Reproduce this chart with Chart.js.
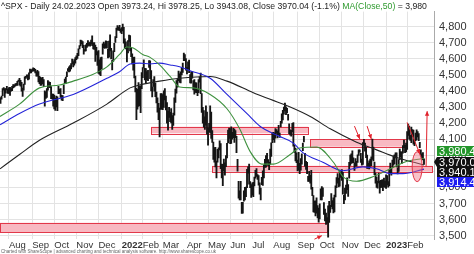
<!DOCTYPE html>
<html>
<head>
<meta charset="utf-8">
<script src="https://cdn.jsdelivr.net/npm/chart.js@4.4.1/dist/chart.umd.min.js"></script>
<style>
  html, body { margin: 0; padding: 0; background: #fff; }
</style>
</head>
<body>
<canvas id="chart" width="474" height="254"></canvas>
<script>
// daily bars 21 Jul 2021 .. 24 Feb 2023, x = trading day (0 = 2 Aug 2021)
const firstDay = -8;

const highs = [
  4359,4369,4415,4422,4416,4416,4430,4412,
  4422,4424,4416,4430,4440,4439,4445,4449,4461,4468,4480,4467,4455,4418,4444,4489,4492,4501,4499,4513,4537,4531,
  4537,4545,4541,4535,4521,4529,4521,4492,4485,4481,4486,4472,4402,4395,4416,4465,4457,4454,4428,4382,4382,
  4375,4356,4369,4365,4429,4412,4415,4374,4372,4439,4475,4487,4520,4540,4551,4559,4572,4599,4584,4597,4608,
  4620,4635,4663,4683,4718,4714,4708,4685,4659,4688,4697,4714,4701,4705,4718,4744,4701,4702,4686,4672,4646,
  4652,4595,4608,4612,4695,4705,4695,4713,4710,4660,4712,4751,4666,4591,4651,4697,4740,4792,4808,4798,4809,4787,
  4796,4818,4797,4725,4707,4673,4714,4749,4745,4666,4632,4611,4612,4494,4417,4411,4453,4429,4432,4516,
  4546,4595,4542,4540,4522,4530,4590,4588,4527,4427,4472,4490,4450,4394,4358,4324,4294,4385,4385,
  4379,4401,4416,4369,4329,4276,4299,4268,4291,4247,4263,4358,4412,4465,4475,4525,4508,4520,4546,4575,4637,4627,4603,
  4548,4583,4593,4503,4521,4521,4465,4471,4453,4452,4410,4471,4489,4512,4385,4299,4278,4240,4308,4270,
  4169,4200,4308,4270,4154,4082,4049,4050,3964,4038,4047,4090,4073,3946,3944,3976,3953,3999,4075,4158,4169,
  4166,4177,4143,4168,4164,4154,4119,3975,3838,3779,3838,3707,3707,3779,3801,3802,3913,3928,3945,3836,3818,
  3829,3832,3865,3906,3918,3880,3874,3829,3796,3863,3903,3939,3975,3999,4012,3973,3957,4039,4078,4140,
  4144,4140,4167,4161,4151,4187,4138,4211,4258,4280,4301,4325,4302,4292,4256,4196,4159,4156,4200,4204,4063,4044,4016,
  3970,4019,3950,3980,4010,4076,4119,4013,3963,3956,3870,3900,3876,3907,3800,3749,3715,3717,3736,3687,3671,
  3698,3791,3806,3798,3706,3666,3640,3613,3685,3714,3689,3762,3718,3736,3753,3810,3862,3886,3859,3905,3893,
  3911,3894,3751,3796,3814,3860,3818,3957,4002,4009,4028,3984,3954,3979,3962,4003,4034,4034,4012,3976,4080,
  4100,4077,4052,4002,3951,3966,3977,3991,4101,4052,3958,3890,3864,3839,3889,3839,3845,3847,3848,3858,3839,
  3878,3874,3836,3906,3951,3919,3970,3997,4003,4016,4015,3922,3973,4039,4024,4020,4061,4095,4063,4077,
  4148,4195,4182,4125,4176,4161,4157,4095,4138,4159,4148,4136,4081,4034,4010,4017,3978
];

const lows = [
  4324,4350,4372,4405,4360,4387,4407,4385,
  4385,4373,4400,4402,4420,4424,4430,4436,4435,4460,4437,4430,4400,4367,4406,4442,4479,4486,4469,4474,4513,4513,
  4522,4526,4524,4513,4493,4493,4457,4446,4435,4437,4447,4428,4306,4354,4360,4406,4425,4421,4353,4352,4306,
  4289,4279,4302,4278,4384,4386,4360,4343,4340,4384,4447,4447,4490,4524,4519,4524,4538,4569,4551,4562,4574,
  4595,4604,4621,4662,4681,4694,4670,4630,4648,4650,4672,4680,4684,4680,4692,4683,4662,4659,4585,4625,4560,
  4510,4504,4496,4540,4630,4670,4665,4670,4667,4606,4611,4650,4600,4532,4584,4645,4703,4733,4780,4779,4776,4765,
  4758,4774,4699,4671,4662,4582,4638,4709,4650,4614,4569,4530,4482,4395,4222,4287,4304,4309,4265,4415,
  4483,4544,4470,4452,4471,4465,4548,4477,4401,4364,4429,4400,4366,4327,4268,4222,4114,4286,4287,
  4285,4299,4345,4283,4201,4157,4236,4209,4202,4162,4186,4250,4329,4387,4424,4465,4454,4451,4501,4517,4589,4589,4530,
  4507,4540,4514,4451,4450,4481,4408,4381,4392,4390,4371,4390,4455,4384,4267,4200,4175,4162,4188,4131,
  4063,4147,4140,4106,4081,3975,3957,3928,3859,3958,3984,4034,3917,3859,3811,3904,3876,3930,3984,4077,4106,
  4073,4074,4100,4110,4081,4110,4017,3901,3734,3723,3722,3639,3640,3715,3722,3743,3798,3889,3820,3799,3738,
  3752,3742,3810,3858,3869,3850,3814,3758,3722,3817,3813,3860,3924,3926,3956,3936,3911,3945,3993,4079,
  4097,4080,4107,4136,4108,4128,4112,4177,4201,4220,4256,4277,4253,4264,4219,4135,4125,4120,4147,4057,4018,3965,3954,
  3903,3907,3886,3907,3945,4029,4083,3933,3913,3886,3837,3838,3827,3789,3749,3648,3644,3623,3640,3610,3584,
  3604,3722,3722,3744,3632,3591,3570,3577,3491,3583,3644,3680,3667,3641,3647,3741,3799,3827,3803,3808,3863,
  3843,3758,3699,3722,3763,3786,3744,3858,3937,3949,3953,3954,3906,3933,3933,3956,3999,4020,3956,3938,3944,
  4062,4026,3985,3919,3919,3916,3933,3936,3975,3965,3879,3827,3800,3795,3828,3765,3798,3801,3780,3805,3800,
  3794,3815,3802,3809,3890,3877,3925,3938,3947,3984,3928,3885,3900,3973,3990,3949,4014,4048,4017,4021,
  4037,4124,4100,4093,4079,4117,4069,4060,4092,4096,4114,4092,4048,3995,3981,3971,3943
];

// moving averages at these trading days
const ma50Days = [-8.5,10,29,48,61,77,93,105,112,118,127,134,143,153,162,175,191,207,219,229,240,251,267,276,292,308,317,330,346,362,378,394];
const ma50 =     [4242,4319,4420,4438,4462,4497,4551,4628,4675,4669,4628,4610,4563,4491,4426,4420,4379,4290,4165,4023,3945,3945,4005,4046,4052,3957,3868,3839,3868,3916,3963,3980];
const ma100Days = [-8.5,10,29,61,93,105,115,124,134,143,153,162,172,191,207,226,238,255,270,279,298,317,336,349,362,374,394];
const ma100 =     [4190,4260,4319,4379,4480,4521,4569,4574,4569,4574,4563,4551,4527,4480,4379,4260,4183,4123,4076,4017,3957,3904,3928,3916,3886,3886,3914];
const ma200Days = [-8.5,10,29,61,93,115,124,143,162,191,207,232,248,267,286,305,330,349,368,394];
const ma200 =     [3916,4005,4094,4201,4319,4420,4438,4462,4480,4491,4462,4390,4349,4301,4242,4165,4082,4034,3987,3940];

const monthTicks = [0,22,43,64,85,107,127,146,169,189,210,231,251,274,295,316,337,358,378];
const monthLabels = ['Aug','Sep','Oct','Nov','Dec','2022','Feb','Mar','Apr','May','Jun','Jul','Aug','Sep','Oct','Nov','Dec','2023','Feb'];
const priceTicks = [3500,3600,3700,3800,3900,4000,4100,4200,4300,4400,4500,4600,4700,4800];

// last values shown on the price axis
const tagValues = [3980.48, 3970.04, 3940.12, 3914.49];

// drawn support/resistance zones: [fromDay, toDay, low, high]
const zones = [
  [135, 284, 4137, 4178],
  [286, 378, 4054, 4101],
  [193, 402, 3900, 3935],
  [-8.5, 302, 3521, 3580]
];
// arrows: [fromDay, fromPrice, toDay, toPrice]
const arrows = [
  [328, 4182, 333, 4102],
  [340, 4182, 344, 4102],
  [378, 4205, 390, 4010],
  [396, 3930, 397, 4275],
  [290, 3478, 297, 3500]
];

const FONT = "'Liberation Sans', Arial, sans-serif";

const overlay = {
  id: 'overlay',
  beforeDatasetsDraw(chart) {
    const { ctx, scales: { x, y } } = chart;
    ctx.save();
    zones.forEach(([d0, d1, lo, hi]) => {
      const x0 = x.getPixelForValue(d0), x1 = x.getPixelForValue(d1);
      const y0 = y.getPixelForValue(hi), y1 = y.getPixelForValue(lo);
      ctx.fillStyle = '#f8b9c2';
      ctx.fillRect(x0, y0, x1 - x0, y1 - y0);
      ctx.strokeStyle = '#e2384a';
      ctx.lineWidth = 1;
      ctx.strokeRect(Math.round(x0) + 0.5, Math.round(y0) + 0.5, Math.round(x1 - x0), Math.round(y1 - y0));
    });
    ctx.restore();
  },
  afterDatasetsDraw(chart) {
    const { ctx, scales: { x, y } } = chart;
    ctx.save();
    // ellipse round the last bars
    const cx = x.getPixelForValue(387.5), cy = y.getPixelForValue(3929);
    ctx.beginPath();
    ctx.ellipse(cx, cy, 5, 15, 0, 0, Math.PI * 2);
    ctx.fillStyle = 'rgba(240,120,135,0.45)';
    ctx.fill();
    ctx.strokeStyle = '#e2384a';
    ctx.lineWidth = 1;
    ctx.stroke();

    ctx.strokeStyle = '#e0202a';
    ctx.fillStyle = '#e0202a';
    arrows.forEach(([d0, p0, d1, p1]) => {
      const ax = x.getPixelForValue(d0), ay = y.getPixelForValue(p0);
      const bx = x.getPixelForValue(d1), by = y.getPixelForValue(p1);
      const ang = Math.atan2(by - ay, bx - ax);
      ctx.beginPath();
      ctx.moveTo(ax, ay);
      ctx.lineTo(bx, by);
      ctx.stroke();
      ctx.beginPath();
      ctx.moveTo(bx, by);
      ctx.lineTo(bx - 5 * Math.cos(ang - 0.45), by - 5 * Math.sin(ang - 0.45));
      ctx.lineTo(bx - 5 * Math.cos(ang + 0.45), by - 5 * Math.sin(ang + 0.45));
      ctx.closePath();
      ctx.fill();
    });
    ctx.restore();
  },
  afterDraw(chart) {
    const { ctx, scales: { y }, chartArea } = chart;
    ctx.save();
    // title line
    ctx.font = '8.7px ' + FONT;
    ctx.textBaseline = 'top';
    let tx = 1;
    const parts = [
      ['^SPX - Daily 24.02.2023 Open 3973.24, Hi 3978.25, Lo 3943.08, Close 3970.04 (-1.1%) ', '#222'],
      ['MA(Close,50)', '#2e9a2e'],
      [' = 3,980', '#222']
    ];
    parts.forEach(([t, c]) => {
      ctx.fillStyle = c;
      ctx.fillText(t, tx, 2);
      tx += ctx.measureText(t).width;
    });

    // value tags on the price axis
    const cy = Math.round(y.getPixelForValue(tagValues[1])) + 2;
    const tagY = [cy - 11, cy, cy + 10, cy + 20];
    const tagBg = ['#23962a', '#111111', '#111111', '#1d1df0'];
    const left = chartArea.right + 3;
    ctx.font = '11px ' + FONT;
    ctx.textBaseline = 'middle';
    tagValues.forEach((v, i) => {
      ctx.fillStyle = tagBg[i];
      ctx.fillRect(left, tagY[i] - 5, 474 - left, 10);
      ctx.fillStyle = '#fff';
      ctx.fillText(v.toLocaleString('en-US', { minimumFractionDigits: 2 }), left + 2, tagY[i] + 0.5);
    });
    ctx.fillStyle = '#111';
    ctx.beginPath();
    ctx.moveTo(chartArea.right, cy);
    ctx.lineTo(left, cy - 5);
    ctx.lineTo(left, cy + 5);
    ctx.closePath();
    ctx.fill();

    // footer
    ctx.font = '4.5px ' + FONT;
    ctx.fillStyle = '#666';
    ctx.textBaseline = 'alphabetic';
    ctx.fillText('Charted with ShareScope | advanced charting and technical analysis software. http://www.sharescope.co.uk', 1, 253);
    ctx.restore();
  }
};

new Chart(document.getElementById('chart'), {
  type: 'bar',
  data: {
    datasets: [
      {
        type: 'line', label: 'MA50', order: 1,
        data: ma50Days.map((d, i) => ({ x: d, y: ma50[i] })),
        borderColor: '#3f913f', borderWidth: 1.1, pointRadius: 0, cubicInterpolationMode: 'monotone'
      },
      {
        type: 'line', label: 'MA100', order: 1,
        data: ma100Days.map((d, i) => ({ x: d, y: ma100[i] })),
        borderColor: '#2424d8', borderWidth: 1.1, pointRadius: 0, cubicInterpolationMode: 'monotone'
      },
      {
        type: 'line', label: 'MA200', order: 1,
        data: ma200Days.map((d, i) => ({ x: d, y: ma200[i] })),
        borderColor: '#222', borderWidth: 1.1, pointRadius: 0, cubicInterpolationMode: 'monotone'
      },
      {
        type: 'bar', label: 'SPX', order: 2,
        data: highs.map((h, i) => ({ x: firstDay + i, y: [lows[i], h] })),
        backgroundColor: '#151515', borderWidth: 0, barThickness: 1.2
      }
    ]
  },
  options: {
    responsive: false,
    animation: false,
    devicePixelRatio: 1,
    layout: { padding: 0 },
    plugins: { legend: { display: false }, tooltip: { enabled: false } },
    scales: {
      x: {
        type: 'linear', min: -8.5, max: 403.5, offset: false,
        grid: { color: '#e3e3e3', offset: false, drawTicks: false },
        border: { display: false },
        afterBuildTicks: (s) => { s.ticks = monthTicks.map(v => ({ value: v })); },
        afterFit: (s) => { s.height = 15; },
        ticks: {
          autoSkip: false, maxRotation: 0, align: 'start', padding: 1, color: '#333',
          callback: (v, i) => monthLabels[i],
          font: (c) => ({ family: FONT, size: 9.5, weight: /^20/.test(monthLabels[c.index]) ? 'bold' : 'normal' })
        }
      },
      y: {
        position: 'right', min: 3479, max: 4895,
        grid: { color: '#e3e3e3', drawTicks: false },
        border: { display: true, color: '#aaa' },
        afterBuildTicks: (s) => { s.ticks = priceTicks.map(v => ({ value: v })); },
        afterFit: (s) => { s.width = 40; },
        ticks: {
          padding: 5, color: '#333',
          font: { family: FONT, size: 11 },
          callback: (v) => v.toLocaleString('en-US')
        }
      }
    }
  },
  plugins: [overlay]
});
</script>
</body>
</html>
